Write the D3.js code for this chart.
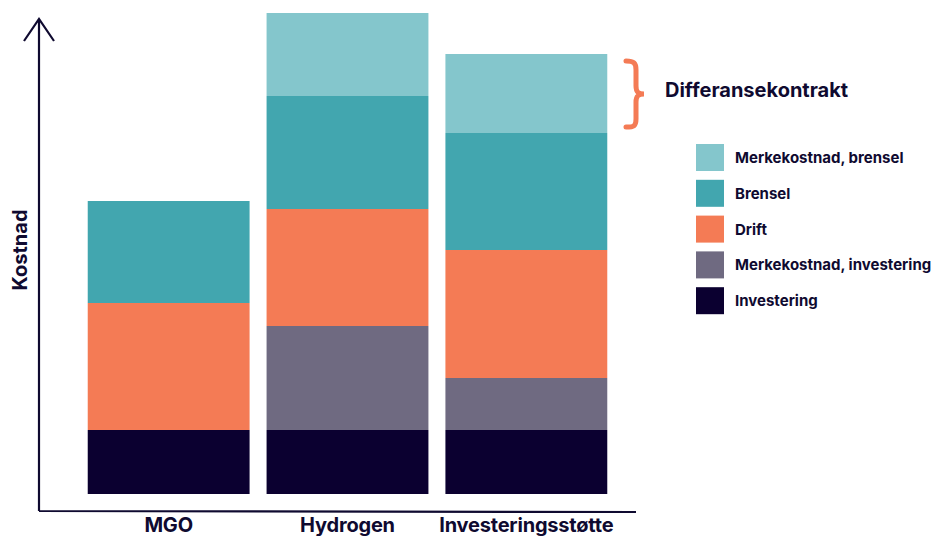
<!DOCTYPE html>
<html lang="no">
<head>
<meta charset="UTF-8">
<title>Kostnad</title>
<style>
html,body{margin:0;width:931px;height:536px;overflow:hidden;background:#fff;font-family:Inter,"Noto Sans",Arial,sans-serif;}
svg{display:block;}
</style>
</head>
<body>
<svg width="931" height="536"></svg>
<script src="https://d3js.org/d3.v7.min.js"></script>
<script>
const categories=["MGO","Hydrogen","Investeringsstøtte"];
const series=["Investering","Merkekostnad, investering","Drift","Brensel","Merkekostnad, brensel"];
const colors=["#0b0030","#6f6a81","#f47b55","#42a6af","#84c6cc"];
// values in relative cost units, bottom to top
const investering=[64,64,64];
const merkeInvestering=[0,104,52];
const drift=[127,117,128];
const brensel=[102,113,117];
const merkeBrensel=[0,83,79];
const legendOrder=[4,3,2,1,0];

const ink="#0f0a30";
const svg=d3.select("svg");

const rows=categories.map((c,i)=>({cat:c,
  "Investering":investering[i],
  "Merkekostnad, investering":merkeInvestering[i],
  "Drift":drift[i],
  "Brensel":brensel[i],
  "Merkekostnad, brensel":merkeBrensel[i]}));
const stacked=d3.stack().keys(series)(rows);

const x=d3.scaleBand().domain(categories).range([77,618]).paddingInner(0.095).paddingOuter(0.06);
const y=d3.scaleLinear().domain([0,481]).range([494,13]);
const color=d3.scaleOrdinal().domain(series).range(colors);

svg.append("g").selectAll("g").data(stacked).join("g")
  .attr("fill",d=>color(d.key))
  .selectAll("rect").data(d=>d).join("rect")
  .attr("x",d=>x(d.data.cat))
  .attr("width",x.bandwidth())
  .attr("y",d=>y(d[1]))
  .attr("height",d=>y(d[0])-y(d[1]));

// axes
svg.append("path").attr("d","M39,511 L39,19 M24,41 L39,19 L54,41 M39,511 L636,512")
  .attr("fill","none").attr("stroke",ink).attr("stroke-width",2.2);

svg.append("text").attr("transform","translate(27,250) rotate(-90)")
  .attr("text-anchor","middle").attr("fill",ink)
  .style("font-size","20px").style("font-weight",700).text("Kostnad");

svg.append("g").selectAll("text").data(categories).join("text")
  .attr("x",d=>x(d)+x.bandwidth()/2).attr("y",532)
  .attr("text-anchor","middle").attr("fill",ink)
  .style("font-size","20px").style("font-weight",700).style("letter-spacing","-0.2px")
  .text(d=>d);

// bracket
svg.append("path")
  .attr("d","M626,61 C634,61 636,63 636,70 L636,86 C636,92 638,94 644,94 C638,94 636,96 636,102 L636,119 C636,126 634,127 626,127")
  .attr("fill","none").attr("stroke","#f47b55").attr("stroke-width",5).attr("stroke-linecap","round");
svg.append("text").attr("x",665).attr("y",97).attr("fill",ink)
  .style("font-size","20px").style("font-weight",700).text("Differansekontrakt");

// legend
const lg=svg.append("g").selectAll("g").data(legendOrder).join("g")
  .attr("transform",(d,i)=>`translate(696,${144+i*35.8})`);
lg.append("rect").attr("width",28).attr("height",27).attr("fill",i=>colors[i]);
lg.append("text").attr("x",39).attr("y",19).attr("fill",ink)
  .style("font-size","15px").style("font-weight",700)
  .text(i=>series[i]);
</script>
</body>
</html>
